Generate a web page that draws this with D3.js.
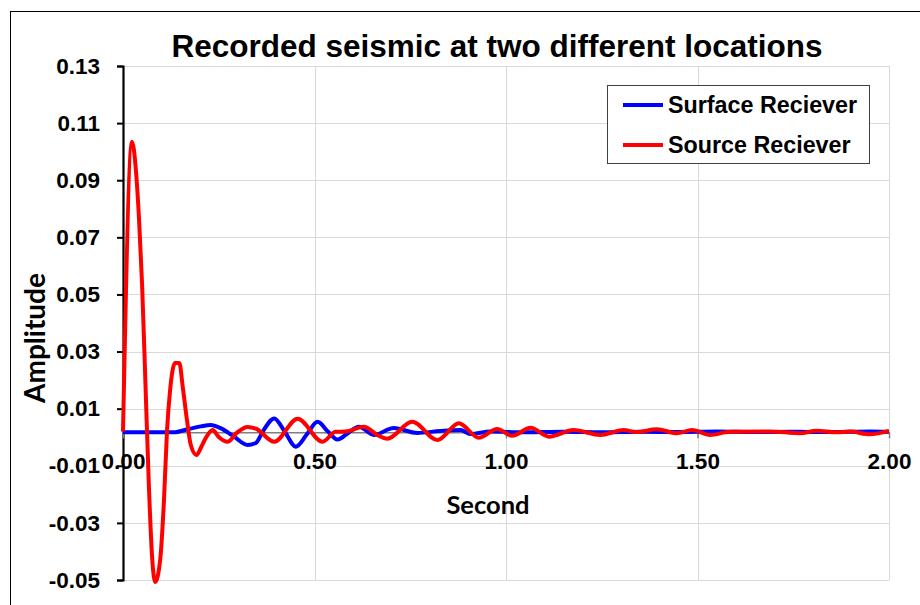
<!DOCTYPE html>
<html>
<head>
<meta charset="utf-8">
<script src="https://cdn.jsdelivr.net/npm/d3@7"></script>
<style>
  html, body { margin: 0; padding: 0; background: #fff; }
  svg { display: block; }
</style>
</head>
<body>
<svg id="chart" width="920" height="605"></svg>
<script>
// ---------- data ----------
const chartTitle = "Recorded seismic at two different locations";
const xLabel = "Second";
const yLabel = "Amplitude";
const seriesNames = ["Surface Reciever", "Source Reciever"];
const seriesColors = ["#0000ff", "#ff0000"];

const xTicks = [0, 0.5, 1.0, 1.5, 2.0];
const yTicks = [0.13, 0.11, 0.09, 0.07, 0.05, 0.03, 0.01, -0.01, -0.03, -0.05];
const xAxisCross = 0.0017;

// Surface Reciever (blue)
const surfaceT = [0.000, 0.060, 0.133, 0.169, 0.203, 0.229, 0.256, 0.290, 0.325, 0.347, 0.365, 0.395,
  0.422, 0.451, 0.480, 0.508, 0.535, 0.560, 0.588, 0.616, 0.655, 0.707, 0.768, 0.829, 0.881, 0.907,
  0.960, 1.050, 1.150, 1.250, 1.350, 1.450, 1.550, 1.650, 1.750, 1.850, 1.950, 2.000];
const surfaceV = [0.0017, 0.0017, 0.0017, 0.0028, 0.0038, 0.0043, 0.0031, 0.0002, -0.0027, -0.0020, 0.0020, 0.0066,
  0.0020, -0.0033, 0.0010, 0.0054, 0.0020, -0.0008, 0.0015, 0.0037, 0.0008, 0.0032, 0.0015, 0.0022, 0.0025, 0.0011,
  0.0020, 0.0017, 0.0019, 0.0017, 0.0019, 0.0018, 0.0020, 0.0018, 0.0019, 0.0018, 0.0020, 0.0019];

// Source Reciever (red)
const sourceT = [0.000, 0.0235, 0.034, 0.042, 0.050, 0.060, 0.068, 0.076, 0.084, 0.097, 0.107, 0.115,
  0.123, 0.136, 0.147, 0.156, 0.167, 0.177, 0.192, 0.203, 0.216, 0.234, 0.250, 0.273, 0.297, 0.325,
  0.347, 0.395, 0.456, 0.521, 0.555, 0.581, 0.629, 0.664, 0.690, 0.755, 0.821, 0.877, 0.929, 0.977,
  1.016, 1.064, 1.112, 1.177, 1.246, 1.307, 1.342, 1.394, 1.446, 1.486, 1.533, 1.585, 1.690, 1.768,
  1.811, 1.864, 1.898, 1.950, 2.000];
const sourceV = [0.0020, 0.1035, 0.0930, 0.0760, 0.0530, 0.0130, -0.0185, -0.0420, -0.0507, -0.0430, -0.0220, 0.0025,
  0.0165, 0.0260, 0.0260, 0.0176, 0.0060, -0.0027, -0.0062, -0.0038, -0.0003, 0.0025, 0.0001, -0.0016, 0.0015, 0.0036,
  0.0030, -0.0016, 0.0065, -0.0016, 0.0019, 0.0020, 0.0037, 0.0008, -0.0005, 0.0054, -0.0010, 0.0049, -0.0002, 0.0029,
  0.0005, 0.0033, 0.0002, 0.0025, 0.0008, 0.0025, 0.0018, 0.0028, 0.0014, 0.0025, 0.0008, 0.0019, 0.0020, 0.0014,
  0.0023, 0.0017, 0.0020, 0.0010, 0.0022];

// ---------- layout ----------
const plot = { left: 123, right: 889, top: 66, bottom: 580 };
const svg = d3.select("#chart");

const x = d3.scaleLinear().domain([0, 2]).range([plot.left, plot.right]);
const y = d3.scaleLinear().domain([-0.05, 0.13]).range([plot.bottom, plot.top]);
const fmt = d => d3.format(".2f")(d).replace("\u2212", "-");

// outer chart border
svg.append("rect").attr("x", 10.5).attr("y", 11.5).attr("width", 930).attr("height", 620)
  .attr("fill", "#fff").attr("stroke", "#000").attr("stroke-width", 1);

// gridlines
svg.append("g").selectAll("line").data(yTicks).join("line")
  .attr("x1", plot.left).attr("x2", plot.right)
  .attr("y1", d => Math.round(y(d)) + 0.5).attr("y2", d => Math.round(y(d)) + 0.5)
  .attr("stroke", "#d9d9d9").attr("stroke-width", 1);
svg.append("g").selectAll("line").data(xTicks.slice(1)).join("line")
  .attr("x1", d => Math.round(x(d)) + 0.5).attr("x2", d => Math.round(x(d)) + 0.5)
  .attr("y1", plot.top).attr("y2", plot.bottom)
  .attr("stroke", "#d9d9d9").attr("stroke-width", 1);

// y axis
const yAxis = d3.axisLeft(y).tickValues(yTicks).tickFormat(fmt).tickSize(6).tickPadding(17);
const gy = svg.append("g").attr("transform", `translate(${plot.left},0)`).call(yAxis);
gy.select(".domain").attr("stroke", "#000").attr("stroke-width", 2.2);
gy.selectAll(".tick line").attr("stroke", "#000").attr("stroke-width", 2);
gy.selectAll(".tick text").attr("font-family", "Liberation Sans, Arial, sans-serif")
  .attr("font-weight", "bold").attr("font-size", 22.5).attr("fill", "#000");

// x axis (crossing near zero)
const xAxis = d3.axisBottom(x).tickValues(xTicks).tickFormat(fmt).tickSize(6).tickSizeOuter(0).tickPadding(15);
const gx = svg.append("g").attr("transform", `translate(0,${y(xAxisCross)})`).call(xAxis);
gx.select(".domain").attr("stroke", "#7f7f7f").attr("stroke-width", 1.5);
gx.selectAll(".tick line").attr("stroke", "#7f7f7f").attr("stroke-width", 1.5);
gx.selectAll(".tick text").attr("font-family", "Liberation Sans, Arial, sans-serif")
  .attr("font-weight", "bold").attr("font-size", 22.5).attr("fill", "#000");

// series
const surfaceData = surfaceT.map((t, i) => [t, surfaceV[i]]);
const sourceData = sourceT.map((t, i) => [t, sourceV[i]]);
const line = d3.line().x(d => x(d[0])).y(d => y(d[1])).curve(d3.curveMonotoneX);

svg.append("path").datum(surfaceData).attr("d", line)
  .attr("fill", "none").attr("stroke", seriesColors[0]).attr("stroke-width", 4)
  .attr("stroke-linejoin", "round");
svg.append("path").datum(sourceData).attr("d", line)
  .attr("fill", "none").attr("stroke", seriesColors[1]).attr("stroke-width", 4)
  .attr("stroke-linejoin", "round");

// title
svg.append("text").attr("x", 497).attr("y", 57).attr("text-anchor", "middle")
  .attr("font-family", "Liberation Sans, Arial, sans-serif").attr("font-weight", "bold")
  .attr("font-size", 31.5).attr("fill", "#000").text(chartTitle);

// axis titles
svg.append("text").attr("x", 488).attr("y", 514).attr("text-anchor", "middle")
  .attr("font-family", "Lato, sans-serif").attr("font-weight", "bold")
  .attr("font-size", 25.5).attr("fill", "#000").text(xLabel);
svg.append("text").attr("transform", "translate(45,338) rotate(-90)").attr("text-anchor", "middle")
  .attr("font-family", "Lato, sans-serif").attr("font-weight", "bold")
  .attr("font-size", 28).attr("fill", "#000").text(yLabel);

// legend
const lg = svg.append("g");
lg.append("rect").attr("x", 607.5).attr("y", 85.5).attr("width", 262).attr("height", 78)
  .attr("fill", "#fff").attr("stroke", "#404040").attr("stroke-width", 1);
seriesNames.forEach((name, i) => {
  const yy = 105 + i * 40;
  lg.append("line").attr("x1", 623).attr("x2", 663).attr("y1", yy).attr("y2", yy)
    .attr("stroke", seriesColors[i]).attr("stroke-width", 4);
  lg.append("text").attr("x", 668).attr("y", yy + 8)
    .attr("font-family", "Liberation Sans, Arial, sans-serif").attr("font-weight", "bold")
    .attr("font-size", 23.3).attr("fill", "#000").text(name);
});
</script>
</body>
</html>
